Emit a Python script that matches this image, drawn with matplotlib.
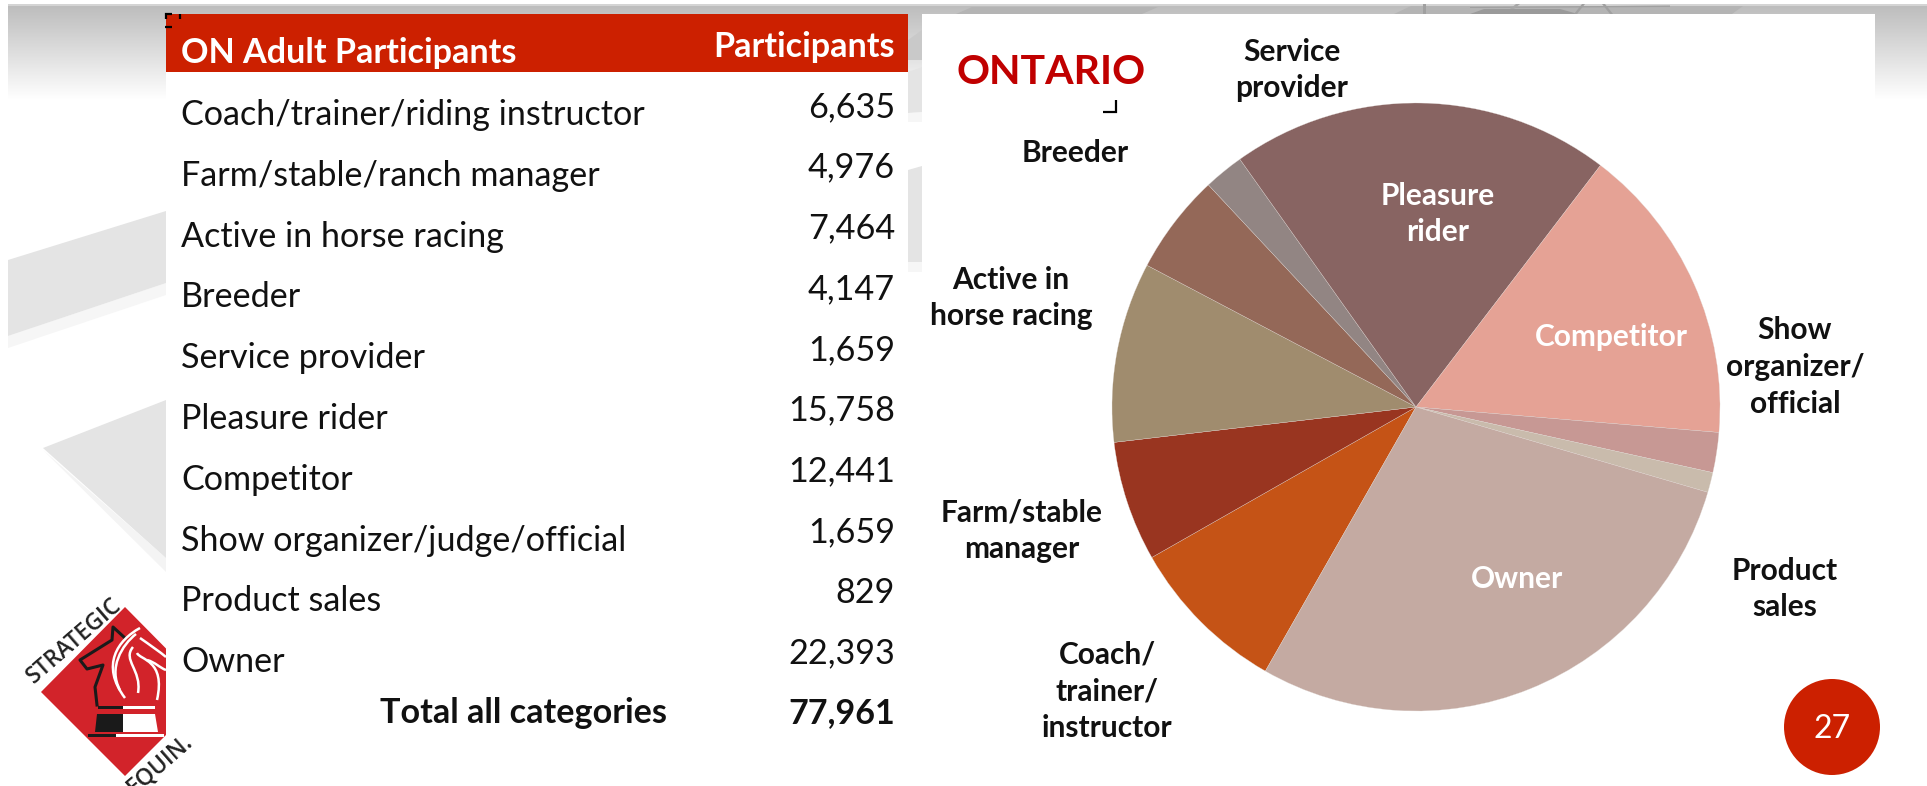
import numpy as np
import matplotlib
matplotlib.use("Agg")
import matplotlib.pyplot as plt
from matplotlib.patches import Polygon, Rectangle, Circle, PathPatch
from matplotlib.path import Path

plt.rcParams['font.family'] = ['Lato', 'DejaVu Sans']

# ---- data ----
table_title = "ON Adult Participants"
value_title = "Participants"
categories = ["Coach/trainer/riding instructor", "Farm/stable/ranch manager",
              "Active in horse racing", "Breeder", "Service provider", "Pleasure rider",
              "Competitor", "Show organizer/judge/official", "Product sales", "Owner"]
participants = [6635, 4976, 7464, 4147, 1659, 15758, 12441, 1659, 829, 22393]
total_label = "Total all categories"
total_value = 77961
slice_colors = ["#C55316", "#993520", "#A08C6E", "#946858", "#928583",
                "#886462", "#E5A295", "#C79894", "#C9BBAC", "#C4AAA2"]
chart_title = "ONTARIO"
outer_labels = ["Coach/\ntrainer/\ninstructor", "Farm/stable\nmanager", "Active in\nhorse racing",
                "Breeder", "Service\nprovider", "Show\norganizer/\nofficial", "Product\nsales"]
outer_pos = [(1107, 691), (1022, 531), (1011, 298), (1075, 153), (1292, 70), (1795, 367), (1785, 589)]
inner_labels = ["Pleasure\nrider", "Competitor", "Owner"]
inner_pos = [(1438, 214), (1611, 337), (1517, 579)]
page_number = "27"

W, H = 1927, 786
fig = plt.figure(figsize=(W / 100, H / 100), dpi=100, facecolor="white")
bg = fig.add_axes([0, 0, 1, 1])
bg.set_xlim(0, W); bg.set_ylim(H, 0); bg.axis("off")

# ---- slide background ----
grad = np.linspace(0xBC, 0xFF, 200)[:, None] / 255
bg.imshow(grad, extent=(8, W, 100, 5), cmap="gray", vmin=0, vmax=1, aspect="auto", zorder=0)
bg.set_xlim(0, W); bg.set_ylim(H, 0)
bg.add_patch(Rectangle((8, 4), W - 8, 1.5, fc="#D4D4D4", ec="none", zorder=1))

def poly(pts, c, z=1):
    bg.add_patch(Polygon(pts, closed=True, fc=c, ec="none", zorder=z))

poly([(8, 348), (8, 336), (166, 283), (166, 295)], "#F6F6F6")
poly([(8, 260), (166, 211), (166, 283), (8, 336)], "#E4E4E4")
poly([(43, 450), (166, 572), (166, 558)], "#F4F4F4")
poly([(43, 448), (166, 400), (166, 558)], "#E4E4E4")
poly([(908, 122), (922, 122), (922, 112), (908, 113)], "#F6F6F6")
poly([(908, 72), (922, 67), (922, 112), (908, 113)], "#E4E4E4")
poly([(908, 272), (922, 272), (922, 262), (908, 262)], "#F6F6F6")
poly([(908, 170), (922, 166), (922, 262), (908, 262)], "#E4E4E4")
poly([(908, 40), (922, 30), (922, 60), (908, 60)], "#C9C9C9")
# darker bands and faint watermark in the top strip
poly([(956, 14), (972, 7), (1158, 7), (1142, 14)], "#B4B4B4", 2)
poly([(1394, 14), (1411, 6), (1743, 6), (1732, 14)], "#B4B4B4", 2)
poly([(1470, 14), (1484, 9), (1560, 9), (1578, 14)], "#9A9A9A", 2)
poly([(1470, 7), (1670, 5.5), (1670, 7), (1470, 8)], "#A0A0A0", 2)
poly([(1423, 14), (1426, 14), (1426, 4), (1423, 4)], "#A0A0A0", 2)
poly([(1574, 14), (1577, 14), (1585, 4), (1582, 4)], "#A0A0A0", 2)
poly([(1610, 14), (1613, 14), (1605, 4), (1602, 4)], "#A0A0A0", 2)
poly([(1510, 9), (1514, 9), (1520, 4), (1516, 4)], "#A8A8A8", 2)

# ---- logo ----
poly([(125, 607), (41, 692), (125, 776), (209, 692)], "#D2232A", 3)
poly([(97, 714), (123, 714), (123, 732), (95, 732)], "#1A1A1A", 4)
poly([(123, 714), (155, 714), (158, 732), (123, 732)], "#FFFFFF", 4)
bg.add_patch(Rectangle((98, 706), 26, 2.5, fc="#1A1A1A", zorder=4))
bg.add_patch(Rectangle((123, 706), 32, 2.5, fc="#FFFFFF", zorder=4))
bg.add_patch(Rectangle((88, 734), 28, 3, fc="#1A1A1A", zorder=4))
bg.add_patch(Rectangle((116, 734), 48, 3, fc="#FFFFFF", zorder=4))
bg.plot([97, 95, 103, 87, 80, 112, 113, 125], [705, 687, 665, 669, 660, 640, 627, 638],
        color="#1A1A1A", lw=2.2, zorder=4, solid_joinstyle="round")
for v in [
    [(125, 698), (100, 665), (118, 640), (140, 628)],
    [(120, 690), (108, 668), (122, 645), (136, 634)],
    [(138, 693), (142, 670), (122, 660), (133, 647)],
    [(157, 700), (166, 660), (140, 660), (137, 653)],
    [(140, 638), (150, 645), (160, 652), (166, 657)],
    [(147, 660), (155, 662), (160, 668), (166, 670)],
]:
    bg.add_patch(PathPatch(Path(v, [Path.MOVETO, Path.CURVE4, Path.CURVE4, Path.CURVE4]),
                           fc="none", ec="white", lw=1.8, zorder=4))

logo_font = ['Open Sans', 'DejaVu Sans']
bg.text(74, 641, "STRATEGIC", rotation=41, ha="center", va="center", fontsize=16.5,
        color="#222222", family=logo_font, fontweight="semibold", zorder=4, rotation_mode="anchor")

# ---- white panels ----
bg.add_patch(Rectangle((166, 72), 742, H - 72, fc="white", ec="none", zorder=5))
bg.add_patch(Rectangle((922, 14), 953, H - 14, fc="white", ec="none", zorder=5))
bg.add_patch(Rectangle((166, 14), 742, 58, fc="#CC2000", ec="none", zorder=6))

bg.text(160, 764, "EQUIN.", rotation=41, ha="center", va="center", fontsize=16.5,
        color="#222222", family=logo_font, fontweight="semibold", zorder=6, rotation_mode="anchor")

# ---- table ----
FS = 24.6
left, right = 181, 895
bg.text(left, 63, table_title, color="white", fontsize=FS, fontweight="bold", va="baseline", zorder=7)
bg.text(right, 57, value_title, color="white", fontsize=FS, fontweight="bold", ha="right", va="baseline", zorder=7)
for i, (c, v) in enumerate(zip(categories, participants)):
    bg.text(left, 125 + 60.8 * i, c, color="#111111", fontsize=FS, va="baseline", zorder=7)
    bg.text(right, 117 + 60.7 * i, f"{v:,}", color="#111111", fontsize=FS, ha="right", va="baseline", zorder=7)
bg.text(667, 723, total_label, color="#111111", fontsize=FS, fontweight="bold", ha="right", va="baseline", zorder=7)
bg.text(right, 723, f"{total_value:,}", color="#111111", fontsize=FS, fontweight="bold", ha="right", va="baseline", zorder=7)

# ---- pie ----
cx, cy, r = 1416, 407, 304
pie_ax = fig.add_axes([(cx - r) / W, 1 - (cy + r) / H, 2 * r / W, 2 * r / H], zorder=2)
pie_ax.pie(participants, colors=slice_colors, startangle=-119.7, counterclock=False, radius=1,
           wedgeprops=dict(edgecolor="#E2DAD6", linewidth=0.2))
pie_ax.set_xlim(-1, 1); pie_ax.set_ylim(-1, 1)
pie_ax.patch.set_alpha(0)

# ---- overlay text ----
top = fig.add_axes([0, 0, 1, 1], zorder=3)
top.set_xlim(0, W); top.set_ylim(H, 0); top.axis("off")
top.text(1051, 72, chart_title, color="#C00000", fontsize=29.5, fontweight="bold", ha="center", va="center")
for t, (x, y) in zip(outer_labels, outer_pos):
    top.text(x, y, t, color="#111111", fontsize=21.5, fontweight="bold", ha="center", va="center", linespacing=1.39)
for t, (x, y) in zip(inner_labels, inner_pos):
    top.text(x, y, t, color="white", fontsize=21.5, fontweight="bold", ha="center", va="center", linespacing=1.39)

# selection marks
for xs, ys in [([166, 166, 172], [19, 14, 14]), ([180, 180], [14, 19]), ([165, 172], [27, 27]),
               ([1103, 1116, 1116], [112, 112, 100])]:
    top.plot(xs, ys, color="black", lw=1.6, solid_joinstyle="miter", solid_capstyle="butt")

# page badge
top.add_patch(Circle((1832, 727), 48, fc="#CC2000", ec="none"))
top.text(1832, 729, page_number, color="white", fontsize=23, ha="center", va="center")

fig.savefig("out.png", dpi=100, facecolor="white")
